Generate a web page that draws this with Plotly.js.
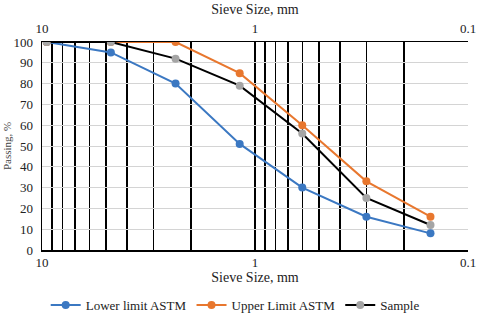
<!DOCTYPE html>
<html>
<head>
<meta charset="utf-8">
<script src="https://cdn.plot.ly/plotly-3.0.1.min.js"></script>
<style>html,body{margin:0;padding:0;background:#fff;}#chart{width:480px;height:316px;}</style>
</head>
<body>
<div id="chart"></div>
<script>
// Data
const sieveSizes = [9.5, 4.75, 2.36, 1.18, 0.6, 0.3, 0.15];
const lowerLimit = [100, 95, 80, 51, 30, 16, 8];
const upperLimit = [100, 100, 100, 85, 60, 33, 16];
const sample = [100, 100, 92, 79, 56, 25, 12];
const gridVals = [10, 9, 8, 7, 6, 5, 4, 3, 2, 1, 0.9, 0.8, 0.7, 0.6, 0.5, 0.4, 0.3, 0.2, 0.1];
const majorVals = [10, 1, 0.1];
const majorLabels = ['10', '1', '0.1'];
const xTitle = 'Sieve Size, mm';
const yTitle = 'Passing, %';
const seriesNames = ['Lower limit ASTM', 'Upper Limit ASTM', 'Sample'];

const serif = '"Times New Roman", "Liberation Serif", serif';
const ticktextAll = gridVals.map(v => { const i = majorVals.indexOf(v); return i >= 0 ? majorLabels[i] : ''; });

const traces = [
  {x: sieveSizes, y: lowerLimit, name: seriesNames[0], mode: 'lines+markers',
   line: {color: '#3B78C2', width: 2}, marker: {color: '#3B78C2', size: 8}},
  {x: sieveSizes, y: upperLimit, name: seriesNames[1], mode: 'lines+markers',
   line: {color: '#E8772E', width: 2}, marker: {color: '#E8772E', size: 8}},
  {x: sieveSizes, y: sample, name: seriesNames[2], mode: 'lines+markers',
   line: {color: '#000000', width: 2}, marker: {color: '#A5A5A5', size: 8}},
  {x: sieveSizes, y: sample, xaxis: 'x2', mode: 'markers', showlegend: false,
   hoverinfo: 'skip', marker: {opacity: 0}}
];

const layout = {
  width: 480, height: 316,
  margin: {l: 42, r: 12, t: 42, b: 66, autoexpand: false},
  paper_bgcolor: '#fff', plot_bgcolor: '#fff',
  font: {family: serif, size: 13, color: '#222'},
  showlegend: true,
  legend: {orientation: 'h', x: 0.49, xanchor: 'center', xref: 'container', y: 0.035, yanchor: 'middle', yref: 'container',
           font: {family: serif, size: 13, color: '#222'}, itemwidth: 30, tracegroupgap: 0},
  xaxis: {type: 'log', range: [1, -1], tickmode: 'array', tickvals: gridVals, ticktext: ticktextAll,
          showgrid: true, gridcolor: '#000', gridwidth: 1.5, ticks: '', automargin: false,
          showline: true, linecolor: '#000', linewidth: 1.5, mirror: true, zeroline: false,
          ticklabelstandoff: 0, tickfont: {family: serif, size: 13, color: '#222'},
          title: {text: xTitle, font: {family: serif, size: 14, color: '#222'}, standoff: 0}},
  xaxis2: {type: 'log', range: [1, -1], overlaying: 'x', side: 'top', tickmode: 'array', automargin: false,
           tickvals: majorVals, ticktext: majorLabels, showgrid: false, ticks: '', zeroline: false,
           ticklabelstandoff: 5, tickfont: {family: serif, size: 13, color: '#222'},
           title: {text: xTitle, font: {family: serif, size: 14, color: '#222'}, standoff: 3}},
  yaxis: {range: [0, 100], dtick: 10, showgrid: true, gridcolor: '#d4d4d4', gridwidth: 1, automargin: false,
          ticks: '', showline: true, linecolor: '#000', linewidth: 1.5, zeroline: false,
          ticklabelstandoff: 5, tickfont: {family: serif, size: 13, color: '#222'}},
  annotations: [{text: yTitle, xref: 'paper', yref: 'paper', x: 0, y: 0.5, xshift: -35, xanchor: 'center', yanchor: 'middle',
                 textangle: -90, showarrow: false, font: {family: serif, size: 11, color: '#444'}}]
};

Plotly.newPlot('chart', traces, layout, {staticPlot: true, displayModeBar: false});
</script>
</body>
</html>
